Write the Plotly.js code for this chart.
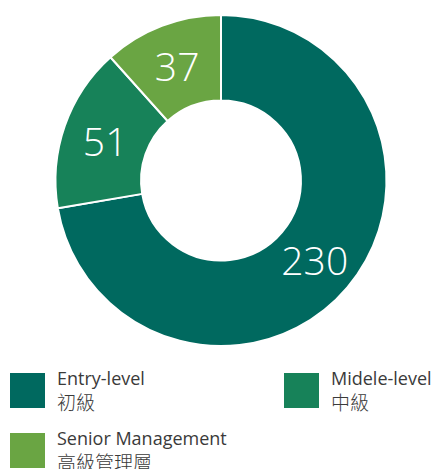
<!DOCTYPE html>
<html>
<head>
<meta charset="utf-8">
<script src="https://cdn.plot.ly/plotly-3.0.1.min.js"></script>
<style>html,body{margin:0;padding:0;background:#fff;}#chart{width:435px;height:469px;}</style>
</head>
<body>
<div id="chart"></div>
<script>
const categoriesEn = ["Entry-level", "Midele-level", "Senior Management"];
const categoriesZh = ["初級", "中級", "高級管理層"];
const values = [230, 51, 37];
const colors = ["#00695f", "#178259", "#6aa543"];

const W = 435, H = 469;
const px = x => x / W;
const py = y => 1 - y / H;

const trace = {
  type: "pie",
  labels: categoriesEn,
  values: values,
  sort: false,
  direction: "clockwise",
  rotation: 0,
  hole: 0.483,
  textinfo: "value",
  textposition: "inside",
  insidetextorientation: "horizontal",
  insidetextfont: {color: "#ffffff", size: 39, family: "Open Sans, Noto Sans, sans-serif", weight: 300},
  marker: {colors: colors, line: {color: "#ffffff", width: 2}},
  domain: {x: [px(55), px(387)], y: [py(346), py(15)]},
  hoverinfo: "none",
  showlegend: false
};

// Legend built from categories
const slots = [{x: 10, y: 373}, {x: 284, y: 373}, {x: 10, y: 433}];
const shapes = [];
const annotations = [];
const font = {family: "Open Sans, Noto Sans CJK TC, sans-serif", size: 18, color: "#3a3a3a"};
categoriesEn.forEach((c, i) => {
  const s = slots[i];
  shapes.push({type: "rect", xref: "paper", yref: "paper",
    x0: px(s.x), x1: px(s.x + 35), y0: py(s.y + 35), y1: py(s.y),
    fillcolor: colors[i], line: {width: 0}});
  annotations.push({xref: "paper", yref: "paper", x: px(s.x + 45), y: py(s.y + 5),
    xanchor: "left", yanchor: "middle", text: c, showarrow: false, font: font});
  annotations.push({xref: "paper", yref: "paper", x: px(s.x + 45), y: py(s.y + 28),
    xanchor: "left", yanchor: "middle", text: categoriesZh[i], showarrow: false,
    font: Object.assign({}, font, {family: "Noto Sans CJK TC, sans-serif", size: 19, weight: 300})});
});

const layout = {
  width: W, height: H,
  margin: {l: 0, r: 0, t: 0, b: 0},
  paper_bgcolor: "#ffffff",
  showlegend: false,
  shapes: shapes,
  annotations: annotations
};

Plotly.newPlot("chart", [trace], layout, {displayModeBar: false, staticPlot: true});
</script>
</body>
</html>
